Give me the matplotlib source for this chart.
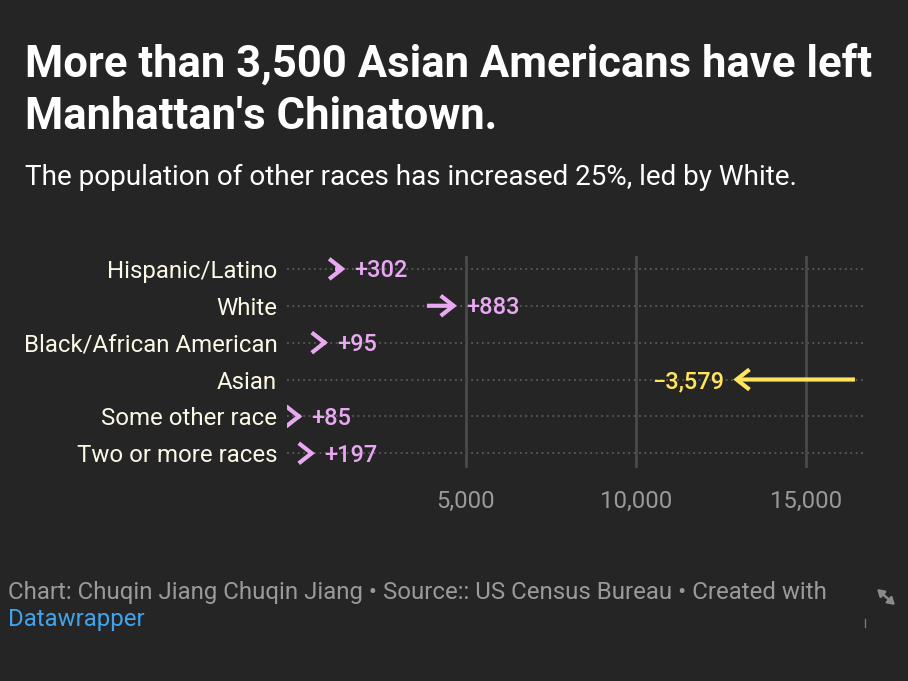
import matplotlib

matplotlib.use("Agg")

import matplotlib.pyplot as plt
from matplotlib.patches import FancyArrowPatch, ArrowStyle

plt.rcParams["font.family"] = ["Roboto", "DejaVu Sans"]

# ---- data --------------------------------------------------------------
categories = ["Hispanic/Latino", "White", "Black/African American", "Asian",
              "Some other race", "Two or more races"]
pop_2010 = [1150, 3850, 845, 16440, 100, 360]
pop_2020 = [1452, 4733, 940, 12861, 185, 557]
change_labels = ["+302", "+883", "+95", "\u22123,579", "+85", "+197"]
x_ticks = [5000, 10000, 15000]
x_tick_labels = ["5,000", "10,000", "15,000"]

BG = "#252525"
PINK = "#eaa8f3"
YELLOW = "#ffe55c"
LABEL = "#fbf8e6"

W, H = 908, 681
fig = plt.figure(figsize=(W / 100, H / 100), dpi=100, facecolor=BG)

# ---- header ------------------------------------------------------------
fig.text(25 / W, 1 - 77 / H, "More than 3,500 Asian Americans have left",
         fontsize=31.4, fontweight="bold", color="white", va="baseline")
fig.text(25 / W, 1 - 129 / H, "Manhattan's Chinatown.",
         fontsize=31.4, fontweight="bold", color="white", va="baseline")
fig.text(25 / W, 1 - 185 / H,
         "The population of other races has increased 25%, led by White.",
         fontsize=20.1, color="white", va="baseline")

# ---- chart -------------------------------------------------------------
ax = fig.add_axes([287 / W, 1 - 468 / H, (865 - 287) / W, (468 - 256) / H])
ax.set_facecolor(BG)
ax.set_xlim(-265, 16735)
ax.set_ylim(5.4, -0.35)
for s in ax.spines.values():
    s.set_visible(False)

ys = list(range(len(categories)))
for y in ys:
    ax.axhline(y, color="#5a5a5a", lw=1.3, ls=(0, (1, 2)), zorder=0)
for xt in x_ticks:
    ax.axvline(xt, color="#4a4a4a", lw=2, zorder=1)

for y, a, b, lab in zip(ys, pop_2010, pop_2020, change_labels):
    col = PINK if b >= a else YELLOW
    arr = FancyArrowPatch((a, y), (b, y),
                          arrowstyle=ArrowStyle("->", head_length=0.42,
                                                head_width=0.33),
                          mutation_scale=22, lw=3, color=col,
                          shrinkA=0, shrinkB=0, zorder=3,
                          capstyle="butt", joinstyle="miter")
    ax.add_patch(arr)
    dx = 6.5 if b >= a else -6.5
    ax.annotate(lab, (b, y), xytext=(dx, -1.5), textcoords="offset points",
                ha="left" if b >= a else "right", va="center", fontsize=17,
                color=col, fontweight="medium")

ax.set_yticks(ys)
ax.set_yticklabels(categories, fontsize=17.3, color=LABEL)
ax.set_xticks(x_ticks)
ax.set_xticklabels(x_tick_labels, fontsize=17.2, color="#9a9a9a")
ax.tick_params(axis="y", length=0, pad=7)
ax.tick_params(axis="x", length=0, pad=16)

# ---- footer ------------------------------------------------------------
fig.text(8 / W, 1 - 599 / H,
         "Chart: Chuqin Jiang Chuqin Jiang \u2022 Source:: US Census Bureau "
         "\u2022 Created with",
         fontsize=17.3, color="#9a9a9a", va="baseline")
fig.text(8 / W, 1 - 626 / H, "Datawrapper", fontsize=17.3, color="#3fa3ee",
         va="baseline")
# small resize icon (drawn as a shape) and its tick mark
fig.add_artist(FancyArrowPatch((877 / W, 1 - 589 / H), (895 / W, 1 - 605 / H),
                               transform=fig.transFigure,
                               arrowstyle=ArrowStyle("<|-|>", head_length=4,
                                                     head_width=2.5),
                               mutation_scale=1, lw=1.8, color="#8a8a8a",
                               shrinkA=0, shrinkB=0))
fig.add_artist(plt.Line2D([865 / W, 865 / W], [1 - 619 / H, 1 - 627 / H],
                          transform=fig.transFigure, color="#777777", lw=1))

fig.savefig("out.png", dpi=100, facecolor=BG)
